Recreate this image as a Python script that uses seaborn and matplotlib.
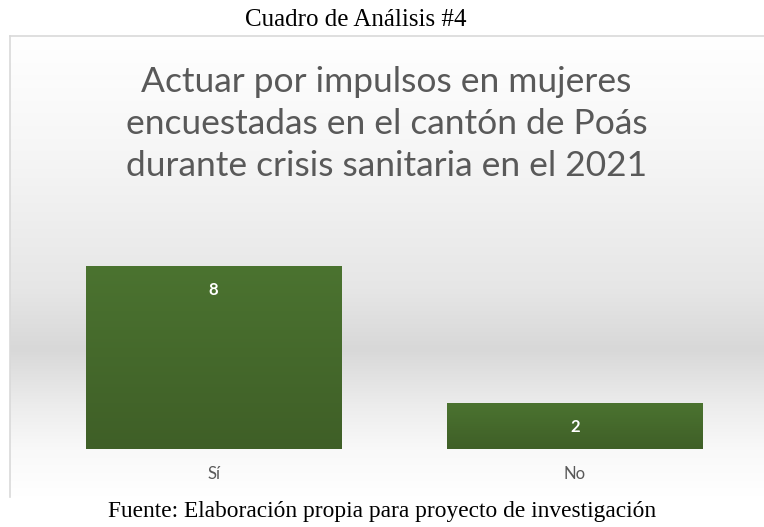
import numpy as np
import pandas as pd
import matplotlib
matplotlib.use("Agg")
import matplotlib.pyplot as plt
from matplotlib.colors import LinearSegmentedColormap
import seaborn as sns

# Datos del cuadro
respuestas = ["Sí", "No"]
cantidades = [8, 2]

caption_top = "Cuadro de Análisis #4"
chart_title = "Actuar por impulsos en mujeres\nencuestadas en el cantón de Poás\ndurante crisis sanitaria en el 2021"
caption_bottom = "Fuente: Elaboración propia para proyecto de investigación"

df = pd.DataFrame({"respuesta": respuestas, "cantidad": cantidades})

sns.set_theme(style="white")
plt.rcParams["font.family"] = ["Lato", "DejaVu Sans"]

fig = plt.figure(figsize=(7.64, 5.27), dpi=100)
fig.patch.set_facecolor("white")

# fondo degradado del grafico
bg = fig.add_axes([10 / 764, 30 / 527, 754 / 764, 461 / 527], zorder=0)
grad = LinearSegmentedColormap.from_list(
    "bg",
    [(0.0, "#ffffff"), (0.25, "#f6f6f6"), (0.55, "#e6e6e6"), (0.68, "#d8d8d8"),
     (0.80, "#ececec"), (0.90, "#f9f9f9"), (1.0, "#ffffff")],
)
bg.imshow(np.linspace(0, 1, 256).reshape(-1, 1), aspect="auto", cmap=grad,
          extent=[0, 1, 0, 1], origin="upper")
bg.set_xticks([])
bg.set_yticks([])
for side in ["right", "bottom"]:
    bg.spines[side].set_visible(False)
for side in ["left", "top"]:
    bg.spines[side].set_color("#d9d9d9")
    bg.spines[side].set_linewidth(1.2)

ax = fig.add_axes([33 / 764, 78 / 527, 722.5 / 764, 229 / 527], zorder=1)
ax.patch.set_alpha(0)
sns.barplot(data=df, x="respuesta", y="cantidad", color="#46692c", width=0.706,
            saturation=1, edgecolor="#6a8a50", linewidth=0.6, ax=ax)
ax.set_ylim(0, 10)
ax.set_xlabel("")
ax.set_ylabel("")
ax.set_yticks([])
sns.despine(ax=ax, left=True, bottom=True)
ax.tick_params(axis="x", length=0, pad=12, labelsize=12, labelcolor="#595959")

# degradado verde dentro de cada barra
bar_grad = LinearSegmentedColormap.from_list("bar", ["#4b7330", "#3f5f27"])
for patch in list(ax.patches):
    x0, y0 = patch.get_x(), patch.get_y()
    w, h = patch.get_width(), patch.get_height()
    im = ax.imshow(np.linspace(0, 1, 128).reshape(-1, 1), aspect="auto", cmap=bar_grad,
                   extent=[x0, x0 + w, y0, y0 + h], origin="upper", zorder=patch.get_zorder() + 0.1)
    im.set_clip_path(patch)
ax.set_xlim(-0.5, len(respuestas) - 0.5)
ax.set_ylim(0, 10)

for cont in ax.containers:
    ax.bar_label(cont, padding=-23, color="white", fontsize=12, fontweight="bold", zorder=5)

fig.text(0.506, 1 - 124 / 527, chart_title, ha="center", va="center", fontsize=25.5,
         color="#595959", linespacing=1.4)

fig.text(0.465, 1 - 20 / 527, caption_top, ha="center", va="center", fontsize=18,
         family="Liberation Serif", color="black")
fig.text(0.500, 1 - 512 / 527, caption_bottom, ha="center", va="center", fontsize=16.8,
         family="Liberation Serif", color="black")

fig.savefig("out.png", dpi=100)
